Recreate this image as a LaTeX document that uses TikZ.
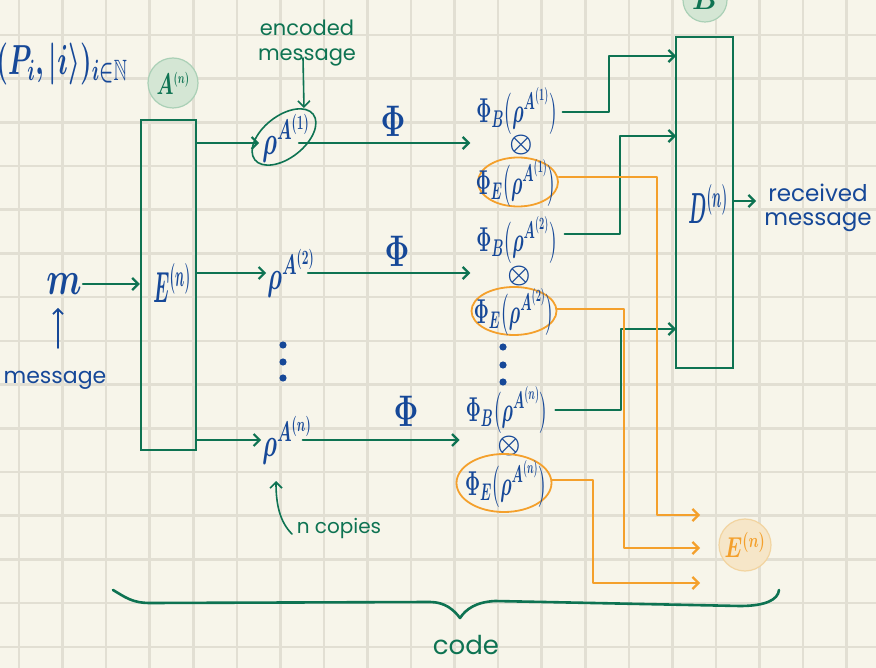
\RequirePackage{fix-cm}
\documentclass[tikz,border=0pt]{standalone}
\usepackage{amsmath}
\usepackage{amssymb}
\usepackage{graphicx}
\usepackage{fontspec}
\newfontfamily\hand{Poppins}
\usetikzlibrary{arrows.meta,shapes.geometric}

\definecolor{paper}{RGB}{247,245,234}
\definecolor{gridc}{RGB}{226,223,211}
\definecolor{ink}{RGB}{22,72,152}
\definecolor{pen}{RGB}{14,115,82}
\definecolor{amber}{RGB}{244,160,44}
\definecolor{mintfill}{RGB}{212,230,212}
\definecolor{mintedge}{RGB}{170,208,182}
\definecolor{peachfill}{RGB}{246,230,200}
\definecolor{peachedge}{RGB}{242,212,160}

% tall, narrow lettering
\newcommand\tallmath[3]{\scalebox{#1}[#2]{\boldmath$#3$}}
% channel output Phi_X(rho^{A^{(k)}})
\newcommand\chanout[2]{\tallmath{0.62}{1.15}{\Phi_{#1}\bigl(\rho^{A^{(#2)}}\bigr)}}
\newcommand\state[1]{\tallmath{0.8}{1.35}{\rho^{A^{(#1)}}}}

\tikzset{
  wire/.style={draw=pen, line width=2.2pt, line cap=round, line join=round},
  wirearrow/.style={wire, -{Straight Barb[length=6pt,width=12pt]}},
  thinwire/.style={draw=pen, line width=1.6pt, line cap=round, -{Straight Barb[length=6pt,width=12pt]}},
  leak/.style={draw=amber, line width=2.2pt, line cap=round, line join=round, -{Straight Barb[length=6pt,width=12pt]}},
  inkarrow/.style={draw=ink, line width=1.7pt, line cap=round, -{Straight Barb[length=5pt,width=10pt]}},
  box/.style={draw=pen, line width=2.4pt, inner sep=0pt},
  inktext/.style={text=ink, inner sep=1pt},
  pentext/.style={text=pen, inner sep=1pt},
  badge/.style={circle, inner sep=0pt, line width=1.2pt},
  leakring/.style={ellipse, draw=amber, line width=1.8pt, inner sep=0pt},
  big/.style={font=\fontsize{34}{40}\selectfont},
  mid/.style={font=\fontsize{30}{34}\selectfont},
  colf/.style={font=\fontsize{30}{34}\selectfont},
  otimesf/.style={font=\fontsize{26}{30}\selectfont},
}

\begin{document}
\begin{tikzpicture}[x=1pt,y=-1pt]
% squared paper
\fill[paper] (0,0) rectangle (876,668);
\useasboundingbox (0,0) rectangle (876,668);
\foreach \k in {0,...,19}
  \draw[gridc, line width=2.6pt] ({19+43.56*\k},0) -- ({19+43.56*\k},668);
\foreach \k in {0,...,14}
  \draw[gridc, line width=2.6pt] (0,{35+43.7*\k}) -- (876,{35+43.7*\k});

% row heights of the three transmitted copies
\coordinate (row1) at (0,143);
\coordinate (row2) at (0,273);
\coordinate (rown) at (0,440);

% basis of the message space
\node[inktext, font=\fontsize{28}{32}\selectfont] (basis) at (62,64)
  {\tallmath{0.95}{1.5}{(P_i,|i\rangle)_{i\in\mathbb{N}}}};

% sender badge, encoder
\node[badge, fill=mintfill, draw=mintedge, text=pen, minimum size=50pt,
      font=\fontsize{26}{30}\selectfont] (Abadge) at (173,83)
  {\tallmath{0.75}{1.15}{A^{\scriptscriptstyle (n)}}};
\node[box, minimum width=55pt, minimum height=330pt] (enc) at (168.5,285) {};
\node[inktext, font=\fontsize{30}{34}\selectfont] (Elab) at (172,283)
  {\tallmath{0.62}{1.45}{E^{(n)}}};

% message input
\node[inktext, font=\fontsize{36}{40}\selectfont] (m) at (64,284) {\tallmath{0.95}{1.3}{m}};
\node[inktext, font=\hand\fontsize{22}{26}\selectfont] (msg) at (55,380) {message};
\coordinate (mtail) at (58,348);
\coordinate (mhead) at (58,308);
\draw[inkarrow] (mtail) -- (mhead);
\draw[wirearrow] (m.east) -- (enc.west |- m);

% encoded states
\node[inktext, mid] (r1) at (286,138) {\state{1}};
\node[draw=pen, line width=1.6pt, ellipse, rotate=38, minimum width=74pt,
      minimum height=42pt, inner sep=0pt] (r1ring) at (284,137) {};
\node[inktext, mid] (r2) at (291,273) {\state{2}};
\node[inktext, mid] (rn) at (287,440) {\state{n}};

\draw[wirearrow] (enc.east |- row1) -- ([xshift=-2pt]r1.west |- row1);
\draw[wirearrow] (enc.east |- row2) -- (r2.west |- row2);
\draw[wirearrow] (enc.east |- rown) -- (rn.west |- rown);

% annotations of the encoded states
\node[pentext, font=\hand\fontsize{21}{25}\selectfont, align=center] (encmsg) at (307,43) {encoded\\message};
\coordinate (enctail) at (303,58);
\coordinate (enctip) at (304,108);
\draw[thinwire] (enctail) -- (enctip);

\node[pentext, font=\hand\fontsize{20}{24}\selectfont] (ncopies) at (339,528) {n copies};
\coordinate (nctail) at (292,534);
\coordinate (nctip) at (276,481);
\draw[thinwire] (nctail) .. controls (280,522) and (276,505) .. (nctip);

% vertical ellipsis dots
\foreach \yy in {345,362,378} \fill[ink] (283,\yy) circle (3.6pt);
\foreach \yy in {347,365,382} \fill[ink] (503,\yy) circle (3.6pt);

% channel outputs
\node[inktext, colf] (b1) at (517,111) {\chanout{B}{1}};
\node[inktext, otimesf] (o1) at (521,145) {\tallmath{1}{1}{\otimes}};
\node[leakring, minimum width=80pt, minimum height=49pt] (f1) at (518,182) {};
\node[inktext, colf] (f1t) at (516,183) {\chanout{E}{1}};

\node[inktext, colf] (b2) at (517,240) {\chanout{B}{2}};
\node[inktext, otimesf] (o2) at (519,276) {\tallmath{1}{1}{\otimes}};
\node[leakring, minimum width=85pt, minimum height=48pt] (f2) at (514,311) {};
\node[inktext, colf] (f2t) at (514,312) {\chanout{E}{2}};

\node[inktext, colf] (bn) at (507,410) {\chanout{B}{n}};
\node[inktext, otimesf] (on) at (509,446) {\tallmath{1}{1}{\otimes}};
\node[leakring, minimum width=95pt, minimum height=58pt] (fn) at (504,483) {};
\node[inktext, colf] (fnt) at (506,484) {\chanout{E}{n}};

% channel symbols and transmissions
\node[inktext, big] (ch1) at (393,121) {\tallmath{0.9}{1.3}{\Phi}};
\node[inktext, big] (ch2) at (397,251) {\tallmath{0.9}{1.3}{\Phi}};
\node[inktext, big] (chn) at (406,411) {\tallmath{0.9}{1.3}{\Phi}};
\draw[wirearrow, shorten >=5pt] ([xshift=-12pt]r1.east |- row1) -- (b1.west |- row1);
\draw[wirearrow, shorten >=5pt] ([xshift=-8pt]r2.east |- row2) -- (b2.west |- row2);
\draw[wirearrow, shorten >=5pt] ([xshift=-10pt]rn.east |- rown) -- (bn.west |- rown);

% receiver badge, decoder
\node[badge, fill=mintfill, draw=mintedge, text=pen, minimum size=44pt,
      font=\fontsize{28}{32}\selectfont] (Bbadge) at (705,0) {\tallmath{1}{1}{B}};
\node[box, minimum width=57pt, minimum height=331pt] (dec) at (704.5,202.5) {};
\node[inktext, font=\fontsize{30}{34}\selectfont] (Dlab) at (708,204)
  {\tallmath{0.62}{1.45}{D^{(n)}}};

\coordinate (din1) at (676,56);
\coordinate (din2) at (676,136);
\coordinate (din3) at (676,329);
\draw[wirearrow] ([xshift=4pt,yshift=-1pt]b1.east) -| (609,56) -- (din1);
\draw[wirearrow] ([xshift=6pt,yshift=6pt]b2.east) -| (620,136) -- (din2);
\draw[wirearrow] ([xshift=6pt]bn.east) -| (621,329) -- (din3);

\node[inktext, font=\hand\fontsize{23}{24}\selectfont, align=center] (recv) at (818,208) {received\\message};
\coordinate (recvtip) at (756,201);
\draw[wirearrow] (dec.east |- recvtip) -- (recvtip);

% leaked parts to the environment
\node[badge, fill=peachfill, draw=peachedge, text=amber, minimum size=52pt,
      font=\fontsize{24}{28}\selectfont] (Ebadge) at (745,545)
  {\tallmath{0.85}{1.2}{E^{(n)}}};
\coordinate (eout1) at (700,515);
\coordinate (eout2) at (700,548);
\coordinate (eout3) at (700,583);
\draw[leak] ([yshift=5pt]f1.east) -| (657,515) -- (eout1);
\draw[leak] ([yshift=2pt]f2.east) -| (624,548) -- (eout2);
\draw[leak] ([yshift=3pt]fn.east) -| (593,583) -- (eout3);

% brace over the whole code
\draw[wire, line width=2.6pt] (113,590) .. controls (125,597) and (132,603) .. (150,603)
  -- (430,602) .. controls (445,602) and (454,610) .. (460,618)
  .. controls (466,609) and (476,602) .. (495,601)
  -- (740,606) .. controls (765,606) and (778,600) .. (779,590);
\node[pentext, font=\hand\fontsize{26}{30}\selectfont] (code) at (466,645) {code};
\end{tikzpicture}
\end{document}
